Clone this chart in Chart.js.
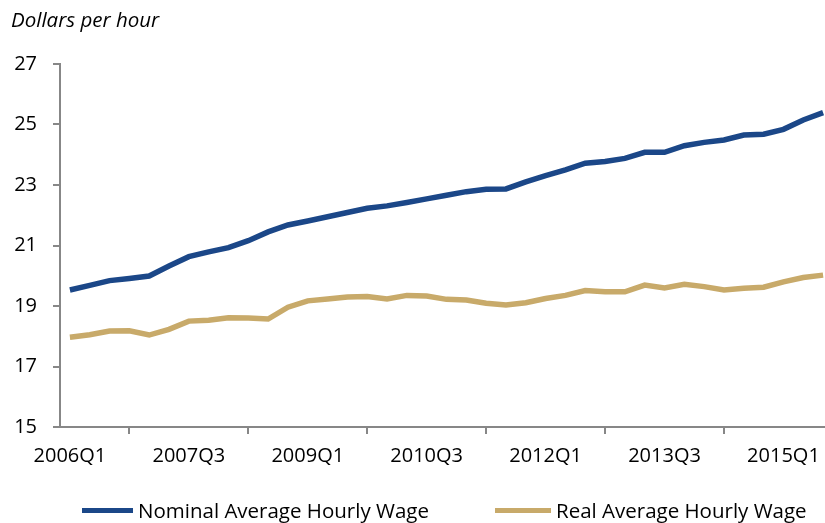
<!DOCTYPE html>
<html>
<head>
<meta charset="utf-8">
<script src="https://cdn.jsdelivr.net/npm/chart.js@4.4.1/dist/chart.umd.min.js"></script>
<style>
  html, body { margin: 0; padding: 0; background: #fff; overflow: hidden; }
  #wrap { position: relative; width: 825px; height: 523px; overflow: hidden; }
  #legend { position: absolute; left: 0; top: 496px; font-family: "Open Sans", sans-serif; font-size: 20.5px; color: #000; }
  .item { position: absolute; top: 0; white-space: nowrap; display: flex; align-items: center; height: 28px; }
  .swatch { display: inline-block; height: 5px; margin-right: 5px; }
</style>
</head>
<body>
<div id="wrap">
  <canvas id="wage-chart" width="840" height="523"></canvas>
  <div id="legend"></div>
</div>
<script>
var quarters = [
  '2006Q1','2006Q2','2006Q3','2006Q4','2007Q1','2007Q2','2007Q3','2007Q4',
  '2008Q1','2008Q2','2008Q3','2008Q4','2009Q1','2009Q2','2009Q3','2009Q4',
  '2010Q1','2010Q2','2010Q3','2010Q4','2011Q1','2011Q2','2011Q3','2011Q4',
  '2012Q1','2012Q2','2012Q3','2012Q4','2013Q1','2013Q2','2013Q3','2013Q4',
  '2014Q1','2014Q2','2014Q3','2014Q4','2015Q1','2015Q2','2015Q3'
];

var nominalWage = [
  19.53, 19.68, 19.84, 19.91, 19.99, 20.32, 20.63, 20.79,
  20.93, 21.16, 21.45, 21.68, 21.81, 21.95, 22.09, 22.23,
  22.31, 22.42, 22.54, 22.66, 22.78, 22.86, 22.87, 23.10,
  23.31, 23.50, 23.72, 23.78, 23.88, 24.08, 24.08, 24.30,
  24.41, 24.49, 24.65, 24.68, 24.84, 25.15, 25.39
];

var realWage = [
  17.97, 18.05, 18.17, 18.18, 18.04, 18.23, 18.50, 18.53,
  18.61, 18.60, 18.57, 18.96, 19.17, 19.23, 19.30, 19.31,
  19.23, 19.35, 19.33, 19.22, 19.20, 19.09, 19.03, 19.11,
  19.25, 19.35, 19.51, 19.47, 19.47, 19.69, 19.60, 19.72,
  19.64, 19.53, 19.59, 19.62, 19.80, 19.94, 20.02
];

var yTicks = [15, 17, 19, 21, 23, 25, 27];

var axisGray = '#878787';
var fontFamily = '"Open Sans", sans-serif';

var ctx = document.querySelector('#wage-chart').getContext('2d');

var chart = new Chart(ctx, {
  type: 'line',
  data: {
    labels: quarters,
    datasets: [{
      label: 'Nominal Average Hourly Wage',
      data: nominalWage,
      borderColor: '#1b4788',
      backgroundColor: '#1b4788',
      borderWidth: 5.5,
      pointRadius: 0,
      tension: 0
    }, {
      label: 'Real Average Hourly Wage',
      data: realWage,
      borderColor: '#c8aa6a',
      backgroundColor: '#c8aa6a',
      borderWidth: 5.5,
      pointRadius: 0,
      tension: 0
    }]
  },
  options: {
    responsive: false,
    animation: false,
    layout: {
      padding: { left: 11, right: 7, top: 0, bottom: 56 }
    },
    plugins: {
      legend: { display: false },
      tooltip: { enabled: false },
      title: {
        display: true,
        text: 'Dollars per hour',
        align: 'start',
        color: '#000',
        font: { family: fontFamily, size: 20.5, style: 'italic', weight: 'normal' },
        padding: { top: 9, bottom: 30.4 }
      }
    },
    scales: {
      x: {
        offset: true,
        afterFit: function(scale) { scale.height = 40; },
        grid: {
          offset: true,
          drawOnChartArea: false,
          drawTicks: true,
          tickLength: 7,
          color: axisGray,
          lineWidth: 2
        },
        border: { display: true, color: axisGray, width: 2 },
        ticks: {
          autoSkip: false,
          maxRotation: 0,
          padding: 10,
          color: '#000',
          font: { family: fontFamily, size: 20 },
          callback: function(value, index) {
            return index % 6 === 0 ? quarters[index] : null;
          }
        }
      },
      y: {
        min: 15,
        max: 27,
        afterFit: function(scale) { scale.width = 49; },
        afterBuildTicks: function(scale) {
          scale.ticks = yTicks.map(function(v) { return { value: v }; });
        },
        grid: {
          drawOnChartArea: false,
          drawTicks: true,
          tickLength: 7,
          color: axisGray,
          lineWidth: 2
        },
        border: { display: true, color: axisGray, width: 2 },
        ticks: {
          padding: 16,
          color: '#000',
          font: { family: fontFamily, size: 20 }
        }
      }
    }
  }
});

// legend built from the chart's datasets
var legendPos = [82, 495];
var swatchWidth = [51, 56];
var legendEl = document.querySelector('#legend');
chart.data.datasets.forEach(function(ds, i) {
  var item = document.createElement('div');
  item.className = 'item';
  item.style.left = legendPos[i] + 'px';
  var sw = document.createElement('span');
  sw.className = 'swatch';
  sw.style.width = swatchWidth[i] + 'px';
  sw.style.background = ds.borderColor;
  var txt = document.createElement('span');
  txt.textContent = ds.label;
  item.appendChild(sw);
  item.appendChild(txt);
  legendEl.appendChild(item);
});
</script>
</body>
</html>
